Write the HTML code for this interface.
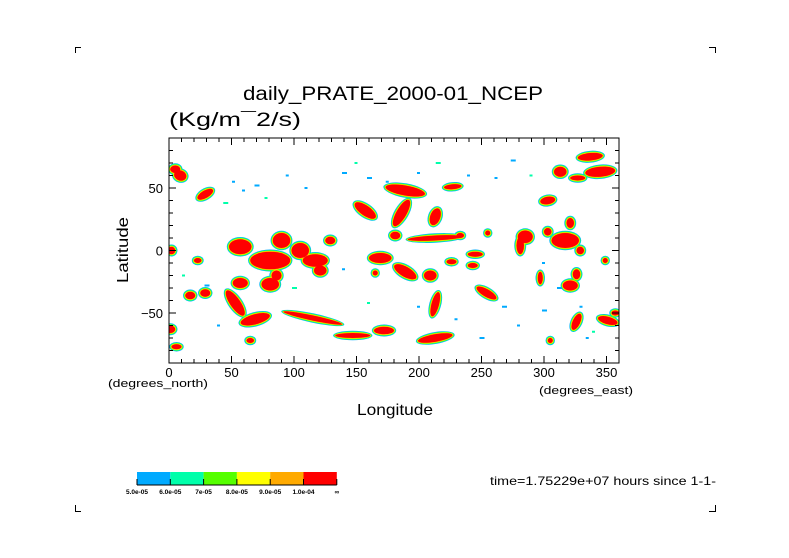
<!DOCTYPE html>
<html><head><meta charset="utf-8"><style>
body{margin:0;background:#fff;}
svg{display:block;font-family:"Liberation Sans",sans-serif;}
</style></head><body>
<svg width="789" height="558" viewBox="0 0 789 558">
<g id="corners" stroke="#000" stroke-width="1" fill="none">
<path d="M75.5,53V47.5H81"/><path d="M709,47.5h6.5V53"/><path d="M75.5,505v6.5H81"/><path d="M709,511.5h6.5V505"/>
</g>
<text x="243" y="100" font-size="19" textLength="300" lengthAdjust="spacingAndGlyphs">daily_PRATE_2000-01_NCEP</text>
<text x="169" y="126" font-size="19" textLength="132" lengthAdjust="spacingAndGlyphs">(Kg/m¯2/s)</text>
<defs><clipPath id="pc"><rect x="169" y="138" width="450" height="225"/></clipPath></defs>
<g id="blobs" clip-path="url(#pc)"></g>
<g id="axes"></g>
<text x="128" y="250" font-size="16" textLength="66" lengthAdjust="spacingAndGlyphs" transform="rotate(-90 128 250)" text-anchor="middle">Latitude</text>
<text x="395" y="415" font-size="16" textLength="76" lengthAdjust="spacingAndGlyphs" text-anchor="middle">Longitude</text>
<text x="108" y="387" font-size="11" textLength="100" lengthAdjust="spacingAndGlyphs">(degrees_north)</text>
<text x="539" y="394" font-size="11" textLength="94" lengthAdjust="spacingAndGlyphs">(degrees_east)</text>
<g id="cbar"></g>
<text x="490" y="485" font-size="12" textLength="226" lengthAdjust="spacingAndGlyphs">time=1.75229e+07 hours since 1-1-</text>
</svg>
<script>
const xTicks=[0,50,100,150,200,250,300,350];
const yTicks=[-50,0,50];
const cbColors=["#00aaff","#00ffaa","#55ff00","#ffff00","#ffaa00","#ff0000"];
const cbLabels=["5.0e-05","6.0e-05","7e-05","8.0e-05","9.0e-05","1.0e-04","\u221e"];
// blobs: lon, lat, rx(deg), ry(deg), rotation(deg)
const blobLon=[5,9,29,57,81,90,17,29,53,69,57,81,86,2,1,6,105,117,121,129,157,189,186,181,169,189,209,213,227,226,243,213,254,213,115,147,172,213,337,345,313,327,303,285,281,317,321,303,329,321,326,297,326,351,357,305,349,23,65,255,233,165,245];
const blobLat=[65,60,45,3,-8,8,-36,-34,-42,-55,-26,-27,-20,0,-63,-77,0,-8,-16,8,32,48,30,12,-6,-17,-20,10,51,-9,-12,27,-34,-43,-54,-68,-64,-70,75,63,63,58,40,11,4,8,22,15,0,-28,-19,-22,-57,-56,-50,-72,-8,-8,-72,14,12,-18,-3];
const blobRx=[4,5,7,9,16,7,4,4,4,12,6,7,4,3,4,4,7,10,5,4,10,16,4,4,9,10,5,22,7,4,4,4,9,3,24,14,8,14,10,12,5,6,6,6,3,11,3,3,3,6,3,2,3,8,3,2,2,3,3,2,3,2,6];
const blobRy=[3,4,3,6,7,6,3,3,12,4,4,5,4,3,3,2,6,5,4,3,4,4,12,3,4,4,4,2,2,2,2,7,3,10,2,2,3,3,3,4,4,2,3,5,7,6,4,3,3,4,4,5,7,3,2,2,2,2,2,2,2,2,2];
const blobRot=[0,20,-30,0,0,0,0,0,-35,-15,0,0,0,0,0,0,0,0,0,0,35,10,30,0,0,30,0,-3,-5,0,0,20,30,15,12,0,0,-10,-5,-5,0,0,-10,0,0,0,0,0,0,0,0,0,25,15,0,0,0,0,0,0,0,0,0];
// small speckles: lon, lat
const dotLon=[45,52,60,70,78,95,140,110,150,160,175,200,215,240,262,275,290,300,312,330,340,268,280,140,100,200,40,30,12,230,300,335,160,250];
const dotLat=[38,55,48,52,42,60,62,50,70,58,55,62,70,60,58,72,60,-10,-30,-45,-65,-45,-60,-15,-30,-45,-60,-28,-20,-55,-48,-70,-42,-70];
const NS="http://www.w3.org/2000/svg";
const X0=169,X1=619,Y0=138,Y1=363;
const sx=l=>X0+(l/360)*(X1-X0);
const sy=l=>Y0+((90-l)/180)*(Y1-Y0);
const kx=(X1-X0)/360, ky=(Y1-Y0)/180;
const bg=document.getElementById('blobs');
const layers=[["#00aaff",2.2],["#00ffaa",1.7],["#55ff00",1.3],["#ffff00",0.8],["#ffaa00",0.4],["#ff0000",0]];
layers.forEach(([c,pad])=>{
  for(let i=0;i<blobLon.length;i++){
    const e=document.createElementNS(NS,'ellipse');
    
    
    const cx=sx(blobLon[i]),cy=sy(blobLat[i]);
    e.setAttribute('cx',cx);e.setAttribute('cy',cy);
    e.setAttribute('rx',blobRx[i]*kx+pad);e.setAttribute('ry',blobRy[i]*ky+pad);
    e.setAttribute('transform','rotate('+blobRot[i]+' '+cx+' '+cy+')');
    e.setAttribute('fill',c);
    bg.appendChild(e);
  }
});
for(let i=0;i<dotLon.length;i++){
  const r=document.createElementNS(NS,'rect');
  
  
  r.setAttribute('x',sx(dotLon[i])-2);r.setAttribute('y',sy(dotLat[i])-1);
  r.setAttribute('width',i%3==0?5:3);r.setAttribute('height',2);
  r.setAttribute('fill',i%4==0?'#00ffaa':'#00aaff');
  bg.appendChild(r);
}
const ax=document.getElementById('axes');
let d='M'+X0+','+Y0+'H'+X1+'V'+Y1+'H'+X0+'Z';
for(let l=0;l<=360;l+=10){const x=sx(l);const h=(l%50==0)?7:4;d+='M'+x+','+Y1+'v-'+h+'M'+x+','+Y0+'v'+h;}
for(let l=-90;l<=90;l+=10){const y=sy(l);const h=(l%50==0)?7:4;d+='M'+X0+','+y+'h'+h+'M'+X1+','+y+'h-'+h;}
const p=document.createElementNS(NS,'path');


p.setAttribute('d',d);p.setAttribute('stroke','#000');p.setAttribute('fill','none');
ax.appendChild(p);
xTicks.forEach(v=>{const t=document.createElementNS(NS,'text');


t.setAttribute('x',sx(v));t.setAttribute('y',Y1+14);t.setAttribute('text-anchor','middle');t.setAttribute('font-size','13');t.textContent=v;ax.appendChild(t);});
yTicks.forEach(v=>{const t=document.createElementNS(NS,'text');


t.setAttribute('x',X0-6);t.setAttribute('y',sy(v)+5);t.setAttribute('text-anchor','end');t.setAttribute('font-size','13');t.textContent=v==-50?'\u221250':v;ax.appendChild(t);});
const cb=document.getElementById('cbar');
const cw=33.3,cx0=137,cy0=472;
cbColors.forEach((c,i)=>{const r=document.createElementNS(NS,'rect');


r.setAttribute('x',cx0+i*cw);r.setAttribute('y',cy0);r.setAttribute('width',cw);r.setAttribute('height',13);r.setAttribute('fill',c);cb.appendChild(r);});
let cd='M'+cx0+','+(cy0+13)+'h'+(6*cw);
for(let i=0;i<=6;i++)cd+='M'+(cx0+i*cw)+','+(cy0+7)+'v6';
const cp=document.createElementNS(NS,'path');


cp.setAttribute('d',cd);cp.setAttribute('stroke','#000');cb.appendChild(cp);
cbLabels.forEach((s,i)=>{const t=document.createElementNS(NS,'text');


t.setAttribute('x',cx0+i*cw);t.setAttribute('y',cy0+22);t.setAttribute('text-anchor','middle');t.setAttribute('font-size','6.5');t.setAttribute('font-weight','bold');t.textContent=s;cb.appendChild(t);});
</script>
</body></html>
